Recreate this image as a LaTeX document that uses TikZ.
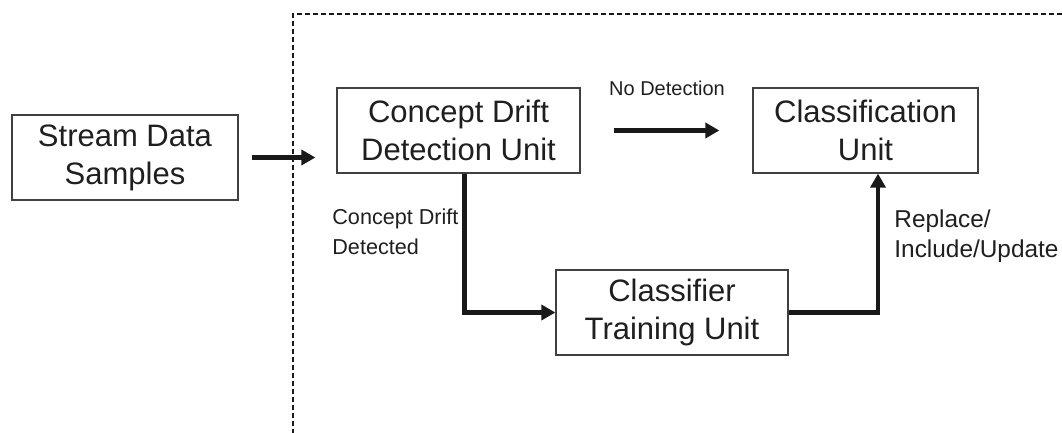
\documentclass[tikz,border=0pt]{standalone}
\usepackage{fontspec}
\setmainfont{Liberation Sans}
\usetikzlibrary{arrows.meta, positioning, calc}

\begin{document}
\begin{tikzpicture}[
    x=0.5pt, y=-0.5pt,
    unit/.style={draw=black!75, line width=0.6pt, minimum height=42.5pt, inner sep=0pt,
                 align=center, text=black!88, font=\fontsize{15.5}{19}\selectfont},
    flow/.style={line width=2.3pt, black!90, -{Triangle[length=7pt,width=7.5pt]}},
    note/.style={inner sep=0pt, align=left, text=black!88, font=\fontsize{10.8}{15}\selectfont},
    frame/.style={line width=0.9pt, black!90, dash pattern=on 2.5pt off 1.5pt}
]
    \useasboundingbox (0,0) rectangle (1062,433);

    % Processing frame (only left and top edges show)
    \draw[frame] (293,450) |- (1080,14);

    % Units
    \node[unit, minimum width=113pt] (stream) at (125,157.5) {Stream Data\\Samples};
    \node[unit, minimum width=121.5pt] (detect) at (458.5,130.5) {Concept Drift\\Detection Unit};
    \node[unit, minimum width=112.5pt] (classify) at (865.5,130.5) {Classification\\Unit};
    \node[unit, minimum width=116pt] (train) at (672,312.5) {Classifier\\Training Unit};

    % Connectors
    \draw[flow, shorten <=6.5pt, shorten >=10.5pt] (stream.east) -- (stream.east -| detect.west);
    \draw[flow, shorten <=16.5pt, shorten >=16.5pt] (detect.east) -- (classify.west);
    \draw[flow] ([xshift=3pt]detect.south) |- (train.west);
    \draw[flow] (train.east) -| ([xshift=6.25pt]classify.south);

    % Connector labels
    \node[note, font=\fontsize{10}{15}\selectfont] (nodrift) at (667,88) {No Detection};
    \node[note, anchor=north west] (drifted) at (332,208) {Concept Drift\\Detected};
    \node[note, anchor=north west, font=\fontsize{12.2}{15}\selectfont] (update) at (894,209) {Replace/\\Include/Update};
\end{tikzpicture}
\end{document}
